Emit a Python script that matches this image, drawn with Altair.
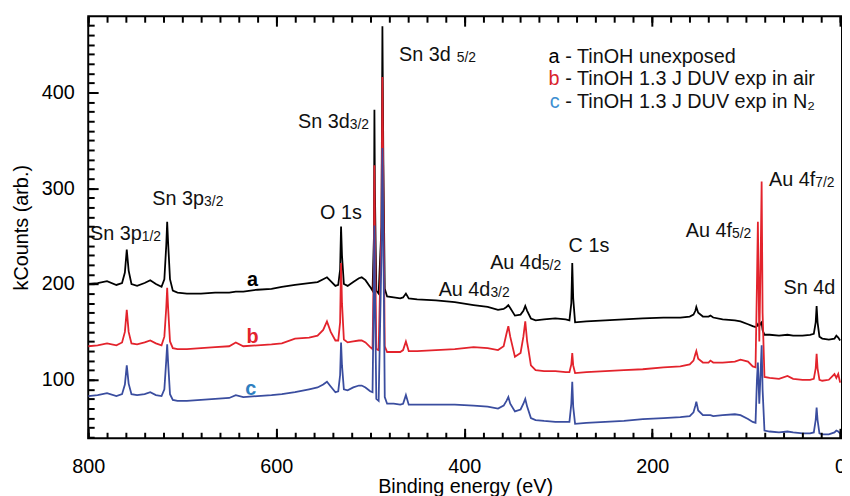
import altair as alt
import pandas as pd

# ---------------- data ----------------
energy = [800, 790, 780, 770, 764, 761, 759, 757, 754, 748, 740, 734, 728, 722, 719, 717, 716, 715, 713, 710,
          705, 695, 680, 665, 650, 643, 635, 620, 605, 594, 580, 565, 556, 550, 546, 542, 537, 534, 532, 531,
          530, 528, 524, 518, 512, 509, 505, 500, 497.5, 496, 495.5, 495, 493.5, 491, 488, 487, 486, 484.5, 482, 475,
          468, 465, 462, 459, 450, 430, 410, 390, 375, 364, 358, 355, 353, 351, 346, 340, 337, 335, 333, 329,
          324, 315, 303, 292, 288, 286, 285, 284, 282, 270, 250, 230, 210, 188, 170, 160, 156, 154, 153, 151,
          146, 140, 138, 135, 125, 112, 106, 98, 93, 90, 88.5, 87.5, 86, 84.5, 83.5, 82.5, 80.5, 75, 65, 56,
          50, 40, 32, 28, 26, 25, 24, 22, 19, 12, 6, 4, 2, 0]

series_a = [200, 201, 203, 199, 201, 212, 236, 214, 200, 198, 201, 204, 200, 197, 205, 240, 265, 243, 205, 193,
            191, 190, 190, 191, 191, 192, 192, 194, 195, 197, 199, 201, 202, 205, 207, 203, 198, 199, 215, 260,
            230, 200, 198, 202, 206, 207, 204, 197, 193, 250, 382, 300, 193, 190, 260, 469, 330, 195, 187, 186,
            185, 186, 190, 185, 184, 183, 181, 178, 176, 173, 174, 176, 178, 175, 167, 168, 172, 177, 172, 164,
            162, 163, 164, 163, 162, 180, 222, 185, 160, 161, 162, 163, 164, 165, 165, 166, 168, 172, 176, 170,
            166, 166, 167, 165, 163, 162, 161, 158, 156, 155, 156, 158, 156, 159, 160, 152, 147, 147, 146, 147,
            146, 146, 147, 148, 160, 177, 160, 145, 143, 142, 143, 146, 144, 141]

series_b = [135, 136, 138, 136, 139, 150, 173, 150, 138, 137, 139, 141, 138, 136, 145, 175, 196, 175, 140, 133,
            132, 132, 133, 134, 135, 139, 135, 136, 137, 138, 143, 144, 146, 152, 161, 150, 141, 141, 160, 222,
            180, 142, 139, 140, 141, 141, 139, 134, 132, 230, 324, 260, 132, 131, 260, 416, 300, 135, 129, 129,
            129, 131, 140, 130, 130, 131, 132, 134, 133, 131, 135, 148, 156, 145, 124, 128, 145, 161, 140, 115,
            110, 109, 109, 108, 108, 116, 128, 115, 107, 108, 109, 110, 111, 113, 114, 116, 120, 127, 130, 122,
            118, 118, 120, 118, 118, 119, 121, 119, 114, 113, 200, 265, 140, 230, 307, 170, 103, 102, 101, 104,
            101, 100, 100, 101, 112, 127, 112, 100, 99, 100, 106, 102, 106, 97]

series_c = [83, 84, 86, 83, 85, 95, 115, 96, 85, 84, 85, 87, 84, 83, 90, 120, 137, 118, 85, 79,
            78, 78, 79, 80, 81, 84, 82, 83, 84, 85, 87, 90, 92, 95, 98, 93, 87, 88, 105, 139,
            115, 90, 89, 92, 94, 94, 92, 88, 87, 200, 261, 200, 80, 78, 230, 342, 250, 82, 75, 75,
            74, 75, 84, 74, 74, 74, 74, 73, 72, 70, 73, 78, 82, 75, 67, 69, 75, 80, 72, 60,
            58, 57, 56, 56, 56, 75, 98, 72, 54, 55, 56, 57, 59, 60, 61, 62, 66, 73, 77, 68,
            63, 63, 63, 62, 63, 64, 63, 59, 56, 55, 100, 118, 75, 110, 136, 90, 47, 46, 45, 46,
            45, 44, 44, 45, 58, 71, 58, 44, 43, 43, 45, 47, 46, 44]

x_major = [800, 600, 400, 200, 0]
x_minor = list(range(0, 801, 20))
y_major = [100, 200, 300, 400]
y_minor = list(range(40, 481, 10))

# peak annotations: main text (right-aligned at junction), subscript (left-aligned at junction)
ann_main = ["Sn 3p", "Sn 3p", "Sn 3d", "Sn 3d", "Au 4d", "Au 4d", "Au 4f", "Au 4f"]
ann_sub = ["1/2", "3/2", "3/2", "5/2", "3/2", "5/2", "5/2", "7/2"]
ann_e = [743.1, 676.7, 521.8, 414.3, 372.1, 317.3, 115.0, 26.5]
ann_v = [245.9, 282.1, 362.7, 433.1, 187.9, 215.9, 249.0, 302.8]
ann_sub_gap = [0, 0, 0, 6, 0, 0, 0, 0]

plain_text = ["O 1s", "C 1s", "Sn 4d"]
plain_e = [553.4, 288.9, 60.2]
plain_v = [267.6, 233.4, 190.0]

curve_lab = ["a", "b", "c"]
curve_e = [625.1, 625.1, 627.2]
curve_v = [204.5, 144.5, 90.7]

leg_letter = ["a", "b", "c"]
leg_text = ["- TinOH unexposed", "- TinOH 1.3 J DUV exp in air", "- TinOH 1.3 J DUV exp in N\u2082"]
leg_letter_e = 298.5
leg_text_e = 292.5
leg_v = [437.2, 413.5, 389.8]

line_colors = ["#000000", "#e3232c", "#3a4d9f"]
label_colors = ["#000000", "#e3232c", "#2f7fc1"]
legend_colors = ["#000000", "#d9232c", "#3d8fd1"]

FONT = "Liberation Sans"
XDOM = [800, -2]
YDOM = [39, 479.5]
W, H = 761, 426

xs = alt.Scale(domain=XDOM, nice=False, zero=False)
ys = alt.Scale(domain=YDOM, nice=False, zero=False)


def tick_axis(values, orient, size, labels=False, **kw):
    # inward ticks: axis pulled into the plot by its tick length, ticks pointing back to the frame
    return alt.Axis(values=values, orient=orient, offset=-size, tickSize=size, tickWidth=2,
                    tickColor="#000000", tickOpacity=1, ticks=True, zindex=1,
                    domain=False, grid=False, labels=labels, **kw)


x_lab = dict(format="d", labelPadding=19, labelFontSize=20, labelFont=FONT, labelColor="#000",
             labelFlush=False, title="Binding energy (eV)", titleFontSize=20, titleFont=FONT,
             titleFontWeight="normal", titlePadding=0, titleColor="#000")
y_lab = dict(labelPadding=14, labelFontSize=20, labelFont=FONT, labelColor="#000",
             title="kCounts (arb.)", titleFontSize=20, titleFont=FONT,
             titleFontWeight="normal", titlePadding=10, titleColor="#000")

# ---------------- axis carrier layers (invisible points at the tick values) ----------------
xmaj_df = pd.DataFrame({"E": x_major})
xmin_df = pd.DataFrame({"E": x_minor})
ymaj_df = pd.DataFrame({"v": y_major})
ymin_df = pd.DataFrame({"v": y_minor})

axis_layers = [
    alt.Chart(xmaj_df).mark_point(opacity=0).encode(
        x=alt.X("E:Q", scale=xs, axis=tick_axis(x_major, "bottom", 10, labels=True, **x_lab))),
    alt.Chart(xmin_df).mark_point(opacity=0).encode(
        x=alt.X("E:Q", scale=xs, axis=tick_axis(x_minor, "bottom", 6, title=None))),
    alt.Chart(xmaj_df).mark_point(opacity=0).encode(
        x=alt.X("E:Q", scale=xs, axis=tick_axis(x_major, "top", 10, title=None))),
    alt.Chart(xmin_df).mark_point(opacity=0).encode(
        x=alt.X("E:Q", scale=xs, axis=tick_axis(x_minor, "top", 6, title=None))),
    alt.Chart(ymaj_df).mark_point(opacity=0).encode(
        y=alt.Y("v:Q", scale=ys, axis=tick_axis(y_major, "left", 10, labels=True, **y_lab))),
    alt.Chart(ymin_df).mark_point(opacity=0).encode(
        y=alt.Y("v:Q", scale=ys, axis=tick_axis(y_minor, "left", 6, title=None))),
]

# ---------------- spectra ----------------
layers = []
for name, vals, col in zip(["a", "b", "c"], [series_a, series_b, series_c], line_colors):
    df = pd.DataFrame({"E": energy, "v": vals})
    layers.append(
        alt.Chart(df).mark_line(color=col, strokeWidth=1.8, clip=True).encode(
            x=alt.X("E:Q", scale=xs, axis=None),
            y=alt.Y("v:Q", scale=ys, axis=None),
        )
    )

XE = dict(scale=xs, axis=None)
YE = dict(scale=ys, axis=None)

# ---------------- annotations ----------------
ann_df = pd.DataFrame({"main": ann_main, "sub": ann_sub, "E": ann_e, "v": ann_v, "gap": ann_sub_gap})
ann_main_layer = alt.Chart(ann_df).mark_text(align="right", baseline="alphabetic", fontSize=20,
                                              font=FONT, color="#111").encode(
    x=alt.X("E:Q", **XE), y=alt.Y("v:Q", **YE), text="main:N")
sub_layers = []
for gap in sorted(set(ann_sub_gap)):
    sub_layers.append(
        alt.Chart(ann_df[ann_df.gap == gap]).mark_text(align="left", baseline="alphabetic", fontSize=14,
                                                        font=FONT, color="#111", dx=gap, dy=1).encode(
            x=alt.X("E:Q", **XE), y=alt.Y("v:Q", **YE), text="sub:N"))

plain_df = pd.DataFrame({"t": plain_text, "E": plain_e, "v": plain_v})
plain_layer = alt.Chart(plain_df).mark_text(align="left", baseline="alphabetic", fontSize=20,
                                             font=FONT, color="#111").encode(
    x=alt.X("E:Q", **XE), y=alt.Y("v:Q", **YE), text="t:N")

curve_df = pd.DataFrame({"t": curve_lab, "E": curve_e, "v": curve_v, "c": label_colors})
curve_layer = alt.Chart(curve_df).mark_text(align="center", baseline="middle", fontSize=20,
                                             fontWeight="bold", font=FONT).encode(
    x=alt.X("E:Q", **XE), y=alt.Y("v:Q", **YE), text="t:N",
    color=alt.Color("c:N", scale=None))

leg_df = pd.DataFrame({"l": leg_letter, "t": leg_text, "v": leg_v, "c": legend_colors,
                       "El": [leg_letter_e] * 3, "Et": [leg_text_e] * 3})
leg_letter_layer = alt.Chart(leg_df).mark_text(align="right", baseline="middle", fontSize=20,
                                                font=FONT).encode(
    x=alt.X("El:Q", **XE), y=alt.Y("v:Q", **YE), text="l:N",
    color=alt.Color("c:N", scale=None))
leg_text_layer = alt.Chart(leg_df).mark_text(align="left", baseline="middle", fontSize=20,
                                              font=FONT, color="#111").encode(
    x=alt.X("Et:Q", **XE), y=alt.Y("v:Q", **YE), text="t:N")

chart = alt.layer(
    *axis_layers, *layers, ann_main_layer, *sub_layers, plain_layer, curve_layer,
    leg_letter_layer, leg_text_layer
).resolve_axis(
    x="independent", y="independent"
).properties(
    width=W, height=H,
    autosize=alt.AutoSizeParams(type="none"),
    padding={"left": 81, "top": 6, "right": 0, "bottom": 56},
    background="#ffffff",
).configure_view(
    stroke="#000000", strokeWidth=2
)

chart.save("out.html", embed_options={"renderer": "svg", "actions": False})
